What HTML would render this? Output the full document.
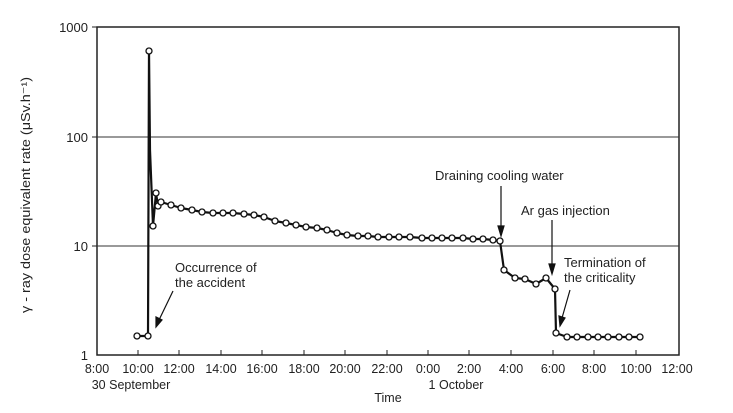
<!DOCTYPE html>
<html><head><style>body{margin:0;background:#fff}svg{display:block}text{font-family:"Liberation Sans",Arial,sans-serif;fill:#222}</style></head>
<body>
<svg width="733" height="413" viewBox="0 0 733 413">
<rect x="97" y="27" width="582" height="328" fill="none" stroke="#222" stroke-width="1.5"/>
<line x1="97" y1="137" x2="679" y2="137" stroke="#333" stroke-width="1"/>
<line x1="97" y1="246" x2="679" y2="246" stroke="#333" stroke-width="1"/>
<g stroke="#222" stroke-width="1">
<line x1="138" y1="355" x2="138" y2="350"/><line x1="179" y1="355" x2="179" y2="350"/><line x1="221" y1="355" x2="221" y2="350"/><line x1="262" y1="355" x2="262" y2="350"/><line x1="304" y1="355" x2="304" y2="350"/><line x1="345" y1="355" x2="345" y2="350"/><line x1="387" y1="355" x2="387" y2="350"/><line x1="428" y1="355" x2="428" y2="350"/><line x1="469" y1="355" x2="469" y2="350"/><line x1="511" y1="355" x2="511" y2="350"/><line x1="553" y1="355" x2="553" y2="350"/><line x1="594" y1="355" x2="594" y2="350"/><line x1="636" y1="355" x2="636" y2="350"/>
<line x1="92" y1="27" x2="97" y2="27"/><line x1="92" y1="137" x2="97" y2="137"/><line x1="92" y1="246" x2="97" y2="246"/>
</g>
<g font-size="13" text-anchor="end">
<text x="88" y="32">1000</text><text x="88" y="142">100</text><text x="88" y="251">10</text><text x="88" y="360">1</text>
</g>
<g font-size="12.5" text-anchor="middle">
<text x="97" y="373">8:00</text><text x="138" y="373">10:00</text><text x="179" y="373">12:00</text><text x="221" y="373">14:00</text><text x="262" y="373">16:00</text><text x="304" y="373">18:00</text><text x="345" y="373">20:00</text><text x="387" y="373">22:00</text><text x="428" y="373">0:00</text><text x="469" y="373">2:00</text><text x="511" y="373">4:00</text><text x="553" y="373">6:00</text><text x="594" y="373">8:00</text><text x="636" y="373">10:00</text><text x="677" y="373">12:00</text>
<text x="131" y="389">30 September</text><text x="456" y="389">1 October</text><text x="388" y="402">Time</text>
</g>
<text font-size="13" text-anchor="middle" textLength="236" lengthAdjust="spacingAndGlyphs" transform="translate(30,195) rotate(-90)">γ - ray dose equivalent rate (μSv.h⁻¹)</text>
<polyline fill="none" stroke="#111" stroke-width="2.2" stroke-linejoin="round" points="137,336 148,336 149,51 150,150 153,226 156,193 158,206 161,202 171,205 181,208 192,210 202,212 213,213 223,213 233,213 244,214 254,215 264,217 275,221 286,223 296,225 306,227 317,228 327,230 337,233 347,235 358,236 368,236 378,237 389,237 399,237 410,237 422,238 432,238 442,238 452,238 463,238 473,239 483,239 493,240 500,241 504,270 515,278 525,279 536,284 546,278 555,289 556,333 567,337 577,337 588,337 598,337 608,337 619,337 629,337 640,337"/>
<g fill="#fff" stroke="#111" stroke-width="1.3">
<circle cx="137" cy="336" r="3"/><circle cx="148" cy="336" r="3"/><circle cx="149" cy="51" r="3"/><circle cx="153" cy="226" r="3"/><circle cx="156" cy="193" r="3"/><circle cx="158" cy="206" r="3"/><circle cx="161" cy="202" r="3"/><circle cx="171" cy="205" r="3"/><circle cx="181" cy="208" r="3"/><circle cx="192" cy="210" r="3"/><circle cx="202" cy="212" r="3"/><circle cx="213" cy="213" r="3"/><circle cx="223" cy="213" r="3"/><circle cx="233" cy="213" r="3"/><circle cx="244" cy="214" r="3"/><circle cx="254" cy="215" r="3"/><circle cx="264" cy="217" r="3"/><circle cx="275" cy="221" r="3"/><circle cx="286" cy="223" r="3"/><circle cx="296" cy="225" r="3"/><circle cx="306" cy="227" r="3"/><circle cx="317" cy="228" r="3"/><circle cx="327" cy="230" r="3"/><circle cx="337" cy="233" r="3"/><circle cx="347" cy="235" r="3"/><circle cx="358" cy="236" r="3"/><circle cx="368" cy="236" r="3"/><circle cx="378" cy="237" r="3"/><circle cx="389" cy="237" r="3"/><circle cx="399" cy="237" r="3"/><circle cx="410" cy="237" r="3"/><circle cx="422" cy="238" r="3"/><circle cx="432" cy="238" r="3"/><circle cx="442" cy="238" r="3"/><circle cx="452" cy="238" r="3"/><circle cx="463" cy="238" r="3"/><circle cx="473" cy="239" r="3"/><circle cx="483" cy="239" r="3"/><circle cx="493" cy="240" r="3"/><circle cx="500" cy="241" r="3"/><circle cx="504" cy="270" r="3"/><circle cx="515" cy="278" r="3"/><circle cx="525" cy="279" r="3"/><circle cx="536" cy="284" r="3"/><circle cx="546" cy="278" r="3"/><circle cx="555" cy="289" r="3"/><circle cx="556" cy="333" r="3"/><circle cx="567" cy="337" r="3"/><circle cx="577" cy="337" r="3"/><circle cx="588" cy="337" r="3"/><circle cx="598" cy="337" r="3"/><circle cx="608" cy="337" r="3"/><circle cx="619" cy="337" r="3"/><circle cx="629" cy="337" r="3"/><circle cx="640" cy="337" r="3"/>
</g>
<g font-size="13">
<text x="175" y="272">Occurrence of</text><text x="175" y="287">the accident</text>
<text x="435" y="180">Draining cooling water</text>
<text x="521" y="215">Ar gas injection</text>
<text x="564" y="267">Termination of</text><text x="564" y="282">the criticality</text>
</g>
<g stroke="#111" stroke-width="1.2" fill="#111">
<line x1="173" y1="291" x2="159" y2="320"/><polygon points="156,327 156,317 162,320"/>
<line x1="501" y1="186" x2="501" y2="228"/><polygon points="501,236 498,226 504,226"/>
<line x1="552" y1="220" x2="552" y2="266"/><polygon points="552,274 549,264 555,264"/>
<line x1="570" y1="290" x2="562" y2="318"/><polygon points="560,326 559,316 565,318"/>
</g>
</svg>
</body></html>
